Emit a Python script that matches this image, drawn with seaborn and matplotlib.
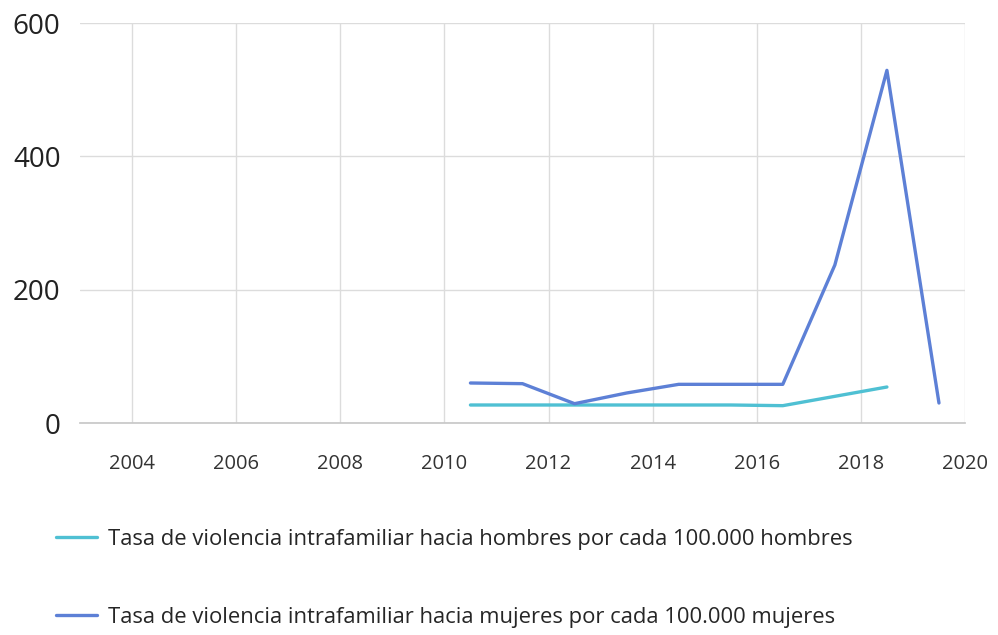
import numpy as np
import pandas as pd
import matplotlib
matplotlib.use("Agg")
import matplotlib.pyplot as plt
import seaborn as sns

# valores
anios = [2010.5, 2011.5, 2012.5, 2013.5, 2014.5, 2015.5, 2016.5, 2017.5, 2018.5, 2019.5]
tasa_hombres = [27, 27, 27, 27, 27, 27, 26, 40, 54, np.nan]
tasa_mujeres = [60, 59, 29, 45, 58, 58, 58, 237, 529, 30]

lbl_h = "Tasa de violencia intrafamiliar hacia hombres por cada 100.000 hombres"
lbl_m = "Tasa de violencia intrafamiliar hacia mujeres por cada 100.000 mujeres"

df = pd.concat([
    pd.DataFrame({"anio": anios, "tasa": tasa_hombres, "serie": lbl_h}),
    pd.DataFrame({"anio": anios, "tasa": tasa_mujeres, "serie": lbl_m}),
]).dropna()

sns.set_theme(style="whitegrid")
plt.rcParams["font.family"] = ["Open Sans", "DejaVu Sans"]

fig = plt.figure(figsize=(9.98, 6.35), dpi=100)
ax = fig.add_axes([80 / 998, 212 / 635, 885 / 998, 400 / 635])

palette = {lbl_h: "#4fc0d3", lbl_m: "#5d80d6"}
sns.lineplot(data=df, x="anio", y="tasa", hue="serie", palette=palette,
             linewidth=2.4, ax=ax, legend=True)

ax.set_xlim(2003, 2020)
ax.set_ylim(0, 600)
ax.set_xticks(range(2004, 2021, 2))
ax.set_yticks([0, 200, 400, 600])
ax.grid(True, color="#dcdcdc", linewidth=1)
for s in ["left", "top", "right"]:
    ax.spines[s].set_visible(False)
ax.spines["bottom"].set_color("#c8c8c8")
ax.tick_params(axis="x", labelsize=14.5, pad=22, length=0, colors="#333333")
ax.tick_params(axis="y", labelsize=20, pad=14, length=0, colors="#222222")
ax.set_xlabel("")
ax.set_ylabel("")

ax.legend(loc="upper left", bbox_to_anchor=(36 / 998, 1 - 509 / 635),
          bbox_transform=fig.transFigure, frameon=False, fontsize=15.8,
          labelspacing=2.6, handlelength=1.9, handletextpad=0.5)

fig.savefig("out.png", dpi=100)
